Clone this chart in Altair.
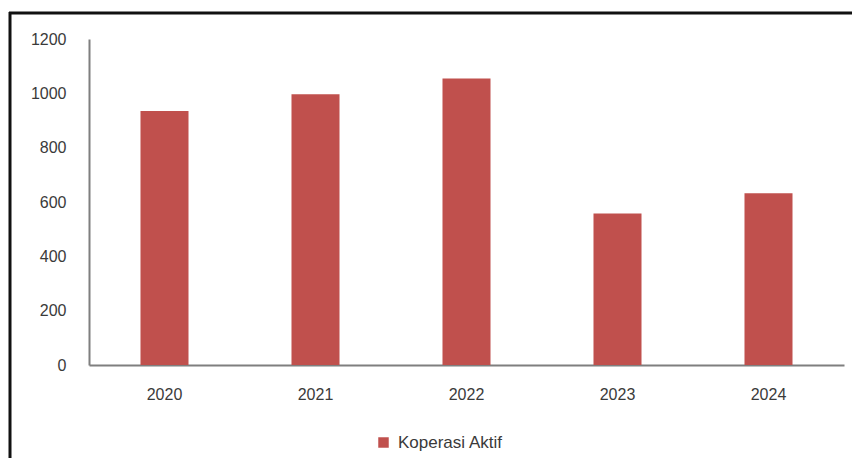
import altair as alt
import pandas as pd

years = ["2020", "2021", "2022", "2023", "2024"]
values = [935, 997, 1055, 558, 632]
series = ["Koperasi Aktif"] * len(years)
y_ticks = [0, 200, 400, 600, 800, 1000, 1200]

df = pd.DataFrame({"year": years, "value": values, "series": series})

FONT = "Liberation Sans"
TXT = "#3a3a3a"

bars = alt.Chart(df).mark_bar(color="#C0504D").encode(
    x=alt.X("year:N", title=None,
            scale=alt.Scale(paddingInner=0.682, paddingOuter=0.341),
            axis=alt.Axis(labelAngle=0, ticks=False, labelPadding=21,
                          domainColor="#7f7f7f", domainWidth=2,
                          labelFont=FONT, labelFontSize=16, labelColor=TXT)),
    y=alt.Y("value:Q", title=None,
            scale=alt.Scale(domain=[0, 1200], nice=False),
            axis=alt.Axis(values=y_ticks, format="d", grid=False, ticks=False, labelPadding=23,
                          domainColor="#7f7f7f", domainWidth=2,
                          labelFont=FONT, labelFontSize=16, labelColor=TXT)),
    color=alt.Color("series:N", scale=alt.Scale(range=["#C0504D"]),
                    legend=alt.Legend(title=None, orient="none", legendX=286, legendY=395,
                                      symbolType="square", symbolSize=110,
                                      symbolStrokeWidth=0, labelOffset=6, padding=0,
                                      labelFont=FONT, labelFontSize=17, labelColor=TXT)),
)

frame_data = alt.Data(values=[{"k": 1}])
left_line = alt.Chart(frame_data).mark_rule(color="#111111", strokeWidth=3).encode(
    x=alt.value(-79), y=alt.value(-27), y2=alt.value(420))
top_line = alt.Chart(frame_data).mark_rule(color="#111111", strokeWidth=3).encode(
    x=alt.value(-80), x2=alt.value(765), y=alt.value(-26))

chart = alt.layer(bars, left_line, top_line).properties(
    width=755, height=326,
    background="white",
    autosize=alt.AutoSizeParams(type="none"),
    padding={"left": 81, "top": 31, "right": 8, "bottom": 93},
).configure_view(strokeWidth=0, stroke="transparent")

chart.save("out.html", embed_options={"renderer": "svg", "actions": False})
